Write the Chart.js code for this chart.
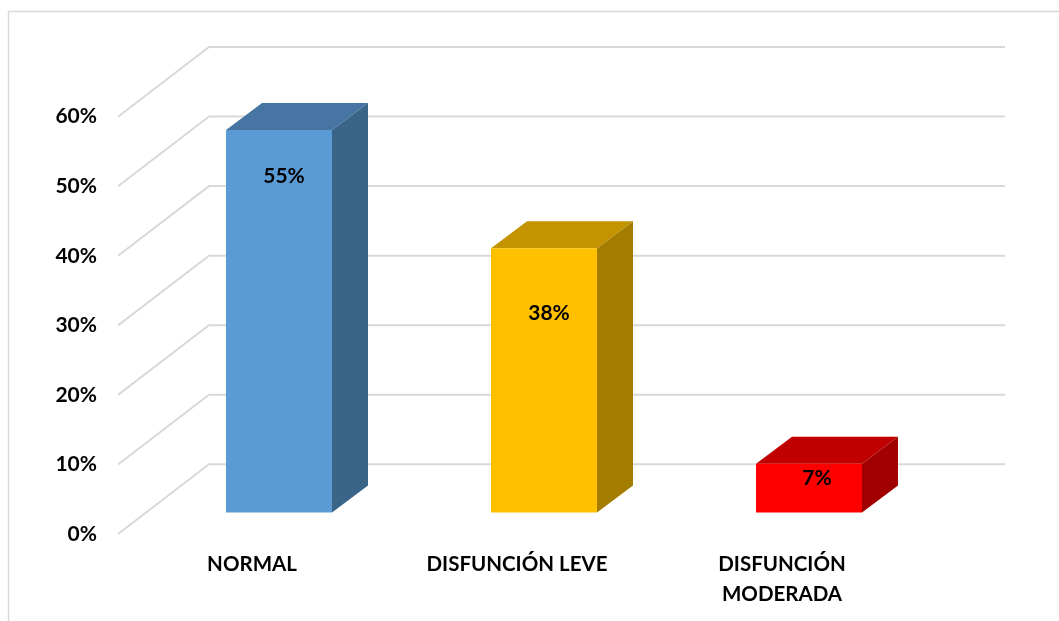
<!DOCTYPE html>
<html>
<head>
<meta charset="utf-8">
<title>Disfunción</title>
<script src="https://cdn.jsdelivr.net/npm/chart.js@4"></script>
<style>
  html, body { margin: 0; padding: 0; background: #fff; }
  canvas { display: block; }
</style>
</head>
<body>
<canvas id="chart" width="1059" height="621"></canvas>
<script>
const categorias = ['NORMAL', 'DISFUNCIÓN LEVE', ['DISFUNCIÓN', 'MODERADA']];
const porcentajes = [55, 38, 7];
const marcasEje = [0, 10, 20, 30, 40, 50, 60];

const colorFrente = ['#5b9bd5', '#ffc000', '#ff0000'];
const colorTecho = ['#4675a3', '#c49400', '#c00000'];
const colorLado = ['#3a6488', '#a47c00', '#a00000'];

// depth of the box: front wall to back wall, and the shallower bar depth
const FONDO_X = 91, FONDO_Y = 69.7;
const BARRA_X = 36, BARRA_Y = 27;
const PISO_X = 28.5;
const ESCALA_RANGO = 67.85;
const BASE_BARRAS = -3.09;

// where each value label sits relative to the bar's top edge
const etiquetaDx = [5, 5, 8];
const etiquetaDy = [46, 65, 14];

const FUENTE = 'Lato, Carlito, sans-serif';
const GRIS = '#d9d9d9';

const caja3d = {
  id: 'caja3d',
  beforeDraw(chart) {
    const c = chart.ctx;
    c.save();
    c.strokeStyle = GRIS;
    c.lineWidth = 1.5;
    c.beginPath();
    c.moveTo(8.5, 621);
    c.lineTo(8.5, 11.5);
    c.lineTo(1059, 11.5);
    c.stroke();
    c.restore();
  },
  beforeDatasetsDraw(chart) {
    const c = chart.ctx;
    const y = chart.scales.y;
    const x0 = chart.chartArea.left - PISO_X;
    c.save();
    c.strokeStyle = GRIS;
    c.lineWidth = 2;
    for (const v of marcasEje) {
      const py = y.getPixelForValue(v);
      c.beginPath();
      c.moveTo(x0, py);
      c.lineTo(x0 + FONDO_X, py - FONDO_Y);
      c.lineTo(1005, py - FONDO_Y);
      c.stroke();
    }
    c.restore();

    // top and side faces of every bar
    chart.getDatasetMeta(0).data.forEach((bar, i) => {
      const l = bar.x - bar.width / 2;
      const r = bar.x + bar.width / 2;
      c.fillStyle = colorTecho[i];
      c.beginPath();
      c.moveTo(l, bar.y);
      c.lineTo(l + BARRA_X, bar.y - BARRA_Y);
      c.lineTo(r + BARRA_X, bar.y - BARRA_Y);
      c.lineTo(r, bar.y);
      c.closePath();
      c.fill();
      c.fillStyle = colorLado[i];
      c.beginPath();
      c.moveTo(r, bar.y);
      c.lineTo(r + BARRA_X, bar.y - BARRA_Y);
      c.lineTo(r + BARRA_X, bar.base - BARRA_Y);
      c.lineTo(r, bar.base);
      c.closePath();
      c.fill();
    });
  },
  afterDatasetsDraw(chart) {
    const c = chart.ctx;
    c.save();
    c.fillStyle = '#000';
    c.font = 'bold 21px ' + FUENTE;
    c.textAlign = 'center';
    c.textBaseline = 'middle';
    chart.getDatasetMeta(0).data.forEach((bar, i) => {
      c.fillText(porcentajes[i] + '%', bar.x + etiquetaDx[i], bar.y + etiquetaDy[i]);
    });
    c.restore();
  },
};

new Chart(document.getElementById('chart'), {
  type: 'bar',
  plugins: [caja3d],
  data: {
    labels: categorias,
    datasets: [{
      data: porcentajes,
      yAxisID: 'yBarras',
      backgroundColor: colorFrente,
      borderWidth: 0,
      barPercentage: 0.4,
      categoryPercentage: 1,
    }],
  },
  options: {
    responsive: false,
    animation: false,
    layout: { padding: { top: 47, right: 117.5, bottom: 0, left: 0 } },
    plugins: { legend: { display: false }, tooltip: { enabled: false } },
    scales: {
      x: {
        afterFit(s) { s.height = 87; },
        grid: { display: false, drawTicks: false },
        border: { display: false },
        ticks: {
          color: '#000',
          font: { family: FUENTE, size: 20.5, weight: 'bold', lineHeight: 1.45 },
          padding: 15.5,
          labelOffset: -27,
          maxRotation: 0,
          autoSkip: false,
        },
      },
      y: {
        position: 'left',
        min: 0,
        max: ESCALA_RANGO,
        afterFit(s) { s.width = 146.5; },
        afterBuildTicks(s) { s.ticks = marcasEje.map(value => ({ value })); },
        grid: { display: false, drawTicks: false },
        border: { display: false },
        ticks: {
          color: '#000',
          font: { family: FUENTE, size: 21, weight: 'bold' },
          padding: 49.5,
          callback: v => v + '%',
        },
      },
      // same pixels per percent as y, lifted onto the plane the bars stand on
      yBarras: {
        display: false,
        min: BASE_BARRAS,
        max: BASE_BARRAS + ESCALA_RANGO,
      },
    },
  },
});
</script>
</body>
</html>
